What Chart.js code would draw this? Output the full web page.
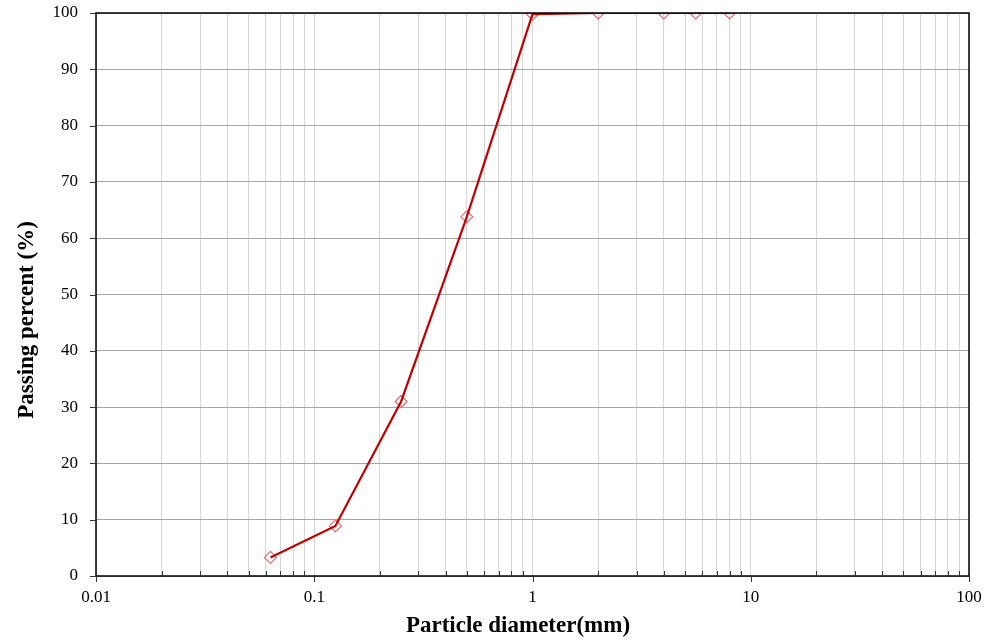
<!DOCTYPE html>
<html>
<head>
<meta charset="utf-8">
<script src="https://cdn.jsdelivr.net/npm/chart.js@4/dist/chart.umd.min.js"></script>
<style>
    html, body { margin: 0; padding: 0; background: #fff; }
    #wrap { width: 992px; height: 641px; }
</style>
</head>
<body>
<div id="wrap"><canvas id="gradingChart"></canvas></div>
<script>
// sieve sizes (mm) and cumulative passing (%)
var sizes = [0.063, 0.125, 0.25, 0.5, 1, 2, 4, 5.6, 8];
var passing = [3.3, 8.9, 31.0, 63.8, 99.8, 100, 100, 100, 100];

var xMin = 0.01, xMax = 100;
var yTicks = [0, 10, 20, 30, 40, 50, 60, 70, 80, 90, 100];
var xMajor = [0.01, 0.1, 1, 10, 100];

var fontFamily = '"Liberation Serif", "Times New Roman", serif';

function logTicks() {
    var ticks = [];
    for (var d = -2; d <= 1; d++) {
        for (var m = 1; m <= 9; m++) {
            ticks.push({ value: Number((m * Math.pow(10, d)).toPrecision(3)) });
        }
    }
    ticks.push({ value: 100 });
    return ticks;
}

function isMajor(v) {
    return xMajor.some(function (t) { return Math.abs(t - v) < 1e-9; });
}

var points = sizes.map(function (s, i) { return { x: s, y: passing[i] }; });

// frame, tick marks and axis titles
var framePlugin = {
    id: 'frame',
    afterDraw: function (chart) {
        var ctx = chart.ctx;
        var a = chart.chartArea;
        var xs = chart.scales.x, ys = chart.scales.y;
        ctx.save();
        ctx.strokeStyle = '#000';
        ctx.lineWidth = 1.5;
        ctx.strokeRect(a.left, a.top, a.right - a.left, a.bottom - a.top);

        ctx.lineWidth = 1;
        ctx.strokeStyle = '#333';
        ctx.beginPath();
        yTicks.forEach(function (v) {
            var py = Math.round(ys.getPixelForValue(v)) + 0.5;
            ctx.moveTo(a.left - 6, py);
            ctx.lineTo(a.left, py);
        });
        xs.ticks.forEach(function (t) {
            var px = Math.round(xs.getPixelForValue(t.value)) + 0.5;
            if (isMajor(t.value)) {
                ctx.moveTo(px, a.bottom);
                ctx.lineTo(px, a.bottom + 6);
            } else {
                ctx.moveTo(px, a.bottom);
                ctx.lineTo(px, a.bottom - 5);
            }
        });
        ctx.stroke();

        ctx.fillStyle = '#000';
        ctx.font = 'bold 23px ' + fontFamily;
        ctx.textAlign = 'center';
        ctx.textBaseline = 'middle';
        ctx.fillText('Particle diameter(mm)', 518, 626);

        ctx.translate(27, 320);
        ctx.rotate(-Math.PI / 2);
        ctx.fillText('Passing percent (%)', 0, 0);
        ctx.restore();
    }
};

var ctx = document.getElementById('gradingChart').getContext('2d');
var gradingChart = new Chart(ctx, {
    type: 'scatter',
    data: {
        datasets: [{
            label: 'line',
            data: points,
            showLine: true,
            borderColor: '#c00000',
            borderWidth: 2.2,
            pointRadius: 0,
            pointHoverRadius: 0,
            pointBorderColor: '#c00000',
            pointBackgroundColor: '#c00000',
            order: 0
        }, {
            label: 'markers',
            data: points,
            showLine: false,
            pointStyle: 'rectRot',
            pointRadius: 6,
            pointHoverRadius: 6,
            borderColor: '#e66e6e',
            pointBorderColor: '#e66e6e',
            pointBackgroundColor: 'rgba(255,255,255,0)',
            pointBorderWidth: 1.2,
            order: 1
        }]
    },
    options: {
        responsive: true,
        maintainAspectRatio: false,
        animation: false,
        events: [],
        layout: { padding: { top: 13, right: 23, left: 0, bottom: 0 } },
        plugins: {
            legend: { display: false },
            tooltip: { enabled: false }
        },
        scales: {
            x: {
                type: 'logarithmic',
                min: xMin,
                max: xMax,
                afterBuildTicks: function (scale) { scale.ticks = logTicks(); },
                afterFit: function (scale) {
                    scale.height = 65;
                    scale.paddingLeft = 0;
                    scale.paddingRight = 0;
                },
                border: { display: false },
                grid: {
                    drawTicks: false,
                    color: '#d6d6d6',
                    lineWidth: 1
                },
                ticks: {
                    autoSkip: false,
                    maxRotation: 0,
                    padding: 11,
                    color: '#000',
                    font: { family: fontFamily, size: 17 },
                    callback: function (value) {
                        return isMajor(value) ? String(value) : '';
                    }
                }
            },
            y: {
                min: 0,
                max: 100,
                afterBuildTicks: function (scale) {
                    scale.ticks = yTicks.map(function (v) { return { value: v }; });
                },
                afterFit: function (scale) {
                    scale.width = 96;
                    scale.paddingTop = 0;
                    scale.paddingBottom = 0;
                },
                border: { display: false },
                grid: {
                    drawTicks: false,
                    color: '#a6a6a6',
                    lineWidth: 1
                },
                ticks: {
                    padding: 18,
                    color: '#000',
                    font: { family: fontFamily, size: 17 }
                }
            }
        }
    },
    plugins: [framePlugin]
});
</script>
</body>
</html>
